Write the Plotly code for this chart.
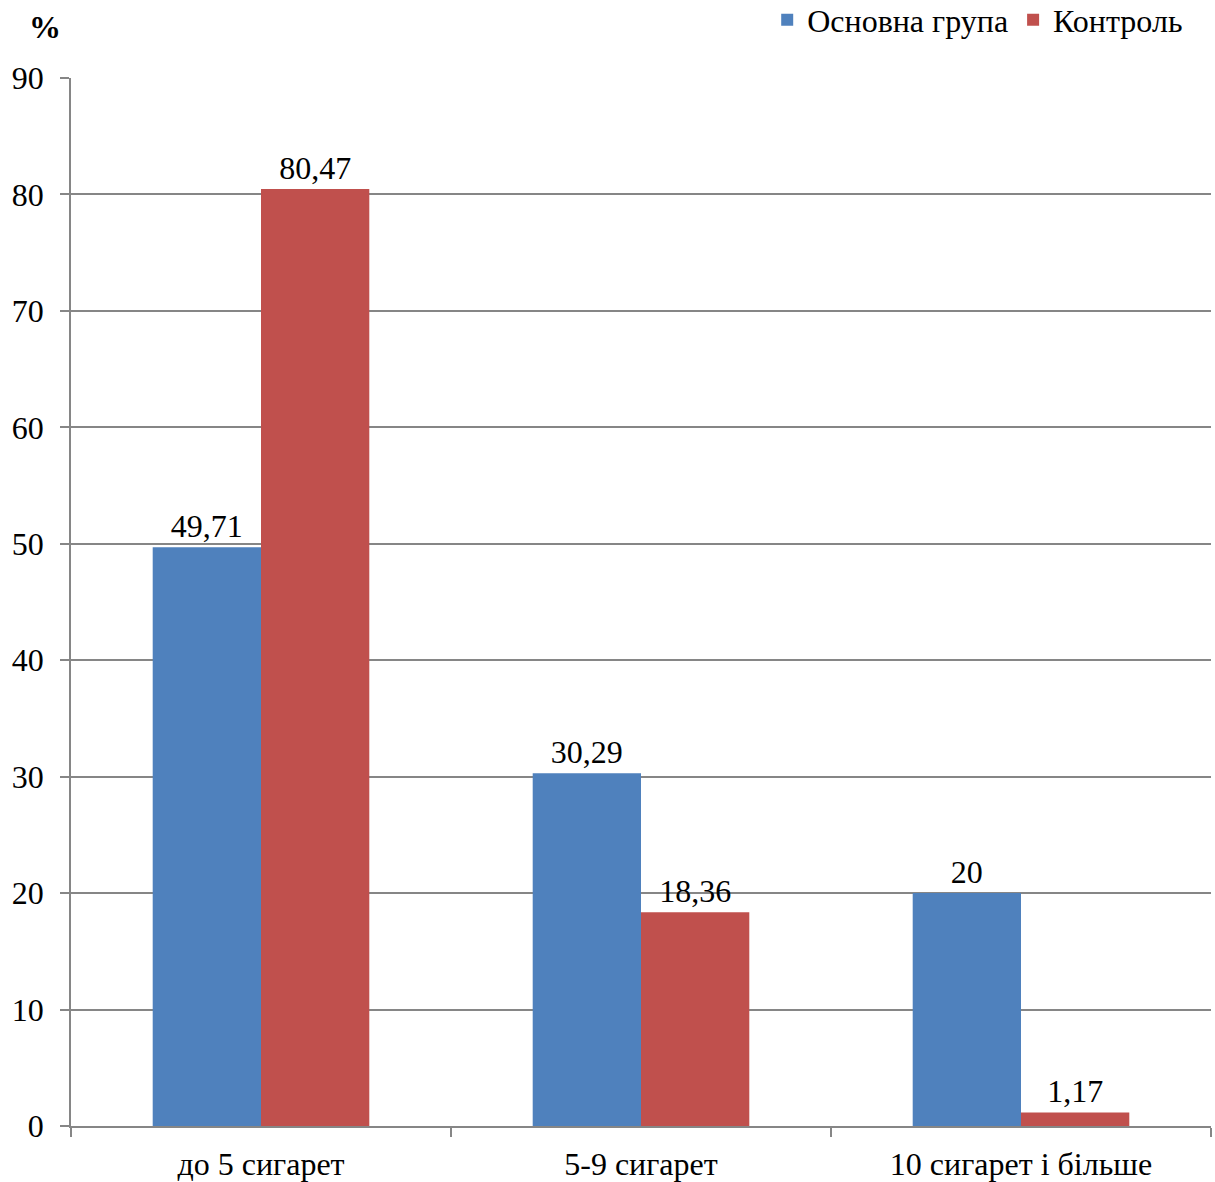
import plotly.graph_objects as go

categories = ["до 5 сигарет", "5-9 сигарет", "10 сигарет і більше"]
main_group = [49.71, 30.29, 20]
control = [80.47, 18.36, 1.17]
y_ticks = [0, 10, 20, 30, 40, 50, 60, 70, 80, 90]

FONT = "Liberation Serif"
FS = 32

def fmt(v):
    return f"{v:g}".replace(".", ",")

fig = go.Figure()
fig.add_trace(go.Bar(
    name="Основна група", x=categories, y=main_group,
    marker=dict(color="#4F81BD", line=dict(width=0)),
    text=[fmt(v) for v in main_group], textposition="outside",
    textfont=dict(family=FONT, size=FS, color="black"), cliponaxis=False,
))
fig.add_trace(go.Bar(
    name="Контроль", x=categories, y=control,
    marker=dict(color="#C0504D", line=dict(width=0)),
    text=[fmt(v) for v in control], textposition="outside",
    textfont=dict(family=FONT, size=FS, color="black"), cliponaxis=False,
))

fig.update_layout(
    width=1215, height=1182,
    margin=dict(l=71, r=4, t=78, b=56, autoexpand=False),
    paper_bgcolor="white", plot_bgcolor="white",
    barmode="group", bargap=0.43, bargroupgap=0,
    font=dict(family=FONT, size=FS, color="black"),
    showlegend=True,
    legend=dict(orientation="h", x=0.98, xanchor="right", y=1.0553, yanchor="middle",
                yref="paper",
                font=dict(family=FONT, size=FS, color="black"),
                traceorder="normal", bgcolor="rgba(0,0,0,0)"),
    uniformtext=dict(mode=False),
)

fig.update_xaxes(
    showline=True, linecolor="#868686", linewidth=1.5,
    ticks="outside", tickson="boundaries", ticklen=9, tickcolor="#868686", tickwidth=1.5,
    showgrid=False, tickfont=dict(family=FONT, size=FS, color="black"),
    ticklabelstandoff=9,
)
fig.update_yaxes(
    range=[0, 90], tickvals=y_ticks, ticktext=[str(t) for t in y_ticks],
    showline=True, linecolor="#868686", linewidth=1.5,
    ticks="outside", ticklen=9, tickcolor="#868686", tickwidth=1.5,
    showgrid=True, gridcolor="#868686", gridwidth=1.5,
    zeroline=False, tickfont=dict(family=FONT, size=FS, color="black"),
    ticklabelstandoff=10,
)

fig.add_annotation(text="<b>%</b>", xref="paper", yref="paper", x=-0.0228, y=1.0487,
                   xanchor="center", yanchor="middle", showarrow=False,
                   font=dict(family=FONT, size=FS, color="black"))

fig.write_html("out.html")
